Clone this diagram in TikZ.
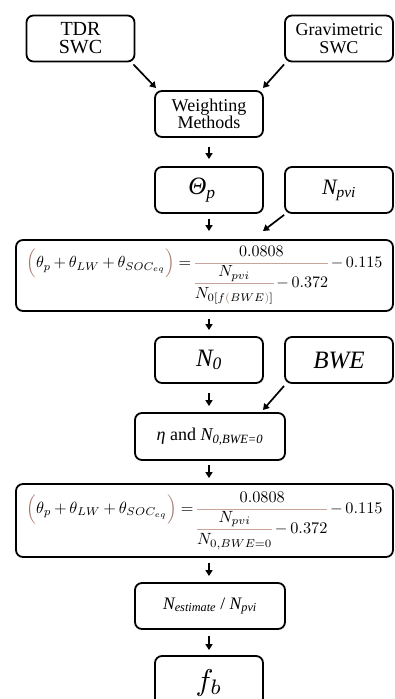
\documentclass[tikz,border=0pt]{standalone}
\usepackage{amsmath}
\usepackage[no-math]{fontspec}
\setmainfont{Liberation Serif}
\usetikzlibrary{arrows.meta,calc}
\definecolor{brn}{RGB}{165,120,108}
\definecolor{barc}{RGB}{200,165,155}
\newcommand\eqnone{\medmuskip=3mu\thickmuskip=4mu\nulldelimiterspace=0pt$\displaystyle \textcolor{brn}{\Bigl(}\theta_p+\theta_{LW}+\theta_{SOC_{eq}}\textcolor{brn}{\Bigr)} = {\color{barc}\dfrac{\color{black}0.0808}{\color{black}{\color{barc}\dfrac{\color{black}N_{pvi}}{\color{black}N_{0[f\textcolor{brn}{(}BWE\textcolor{brn}{)}]}}}-0.372}}-0.115$}
\newcommand\eqntwo{\medmuskip=3mu\thickmuskip=4mu\nulldelimiterspace=0pt$\displaystyle \textcolor{brn}{\Bigl(}\theta_p+\theta_{LW}+\theta_{SOC_{eq}}\textcolor{brn}{\Bigr)} = {\color{barc}\dfrac{\color{black}0.0808}{\color{black}{\color{barc}\dfrac{\color{black}N_{pvi}}{\color{black}N_{0,BWE=0}}}-0.372}}-0.115$}
\begin{document}
\begin{tikzpicture}[x=1pt,y=-1pt,
 box/.style={draw, line width=1.8pt, rounded corners=7pt, inner sep=0pt, align=center},
 sbox/.style={box, minimum width=108pt, minimum height=46pt},
 arr/.style={line width=1.7pt, -{Triangle[length=6pt,width=7pt]}}]
\useasboundingbox (0,0) rectangle (394,699);
\node[sbox, font=\fontsize{20}{18}\selectfont] (tdr) at (80.5,38.5) {TDR\\SWC};
\node[sbox, font=\fontsize{18}{18.5}\selectfont] (grav) at (339,38.5) {Gravimetric\\SWC};
\node[sbox, font=\fontsize{18}{16.5}\selectfont] (wm) at (209,114) {Weighting\\Methods};
\node[sbox, font=\fontsize{25}{25}\selectfont] (tp) at (209,190) {\itshape Θ\textsubscript{p}\hspace*{14pt}};
\node[sbox, font=\fontsize{22}{22}\selectfont] (npvi) at (339,190) {\itshape N\textsubscript{pvi}};
\node[box, minimum width=377pt, minimum height=71pt] (eq1) at (204.5,275.5) {\resizebox{356pt}{!}{\eqnone}};
\node[sbox, font=\fontsize{25}{25}\selectfont] (n0) at (209,360) {\itshape N\textsubscript{0}};
\node[sbox, font=\fontsize{25}{25}\selectfont] (bwe) at (339,360) {\itshape BWE};
\node[box, minimum width=150pt, minimum height=47pt, font=\fontsize{18}{18}\selectfont] (eta) at (210,436.5) {\itshape η \upshape and \itshape N\textsubscript{0,BWE=0}};
\node[box, minimum width=377pt, minimum height=73pt] (eq2) at (204.5,520.5) {\resizebox{356pt}{!}{\eqntwo}};
\node[box, minimum width=150pt, minimum height=46pt, font=\fontsize{17.5}{17.5}\selectfont] (nest) at (210,606) {\itshape N\textsubscript{estimate} \upshape/ \itshape N\textsubscript{pvi}};
\node[sbox, minimum height=60pt] (fb) at (209,686) {\raisebox{12pt}{\scalebox{3}{$f_b$}}};
% diagonal connectors
\coordinate (e1) at (156,88);
\coordinate (e2) at (263,88);
\coordinate (e3) at (263,231);
\coordinate (e4) at (263,410);
\draw[arr] ($(tdr.south east)+(-2,2)$) -- (e1);
\draw[arr] ($(grav.south west)+(0,2)$) -- (e2);
\draw[arr] ($(npvi.south west)+(0,1)$) -- (e3);
\draw[arr] ($(bwe.south west)+(0,2)$) -- (e4);
% vertical connectors
\draw[arr, shorten <=9pt, shorten >=7pt] (wm.south) -- (wm.south |- tp.north);
\draw[arr, shorten <=5pt, shorten >=8pt] (tp.south) -- (tp.south |- eq1.north);
\draw[arr, shorten <=7pt, shorten >=6pt] (tp.south |- eq1.south) -- (n0.north);
\draw[arr, shorten <=9pt, shorten >=6pt] (n0.south) -- (n0.south |- eta.north);
\draw[arr, shorten <=4pt, shorten >=5pt] (n0.south |- eta.south) -- (n0.south |- eq2.north);
\draw[arr, shorten <=5pt, shorten >=6pt] (n0.south |- eq2.south) -- (n0.south |- nest.north);
\draw[arr, shorten <=6pt, shorten >=5pt] (n0.south |- nest.south) -- (fb.north);
\end{tikzpicture}
\end{document}
